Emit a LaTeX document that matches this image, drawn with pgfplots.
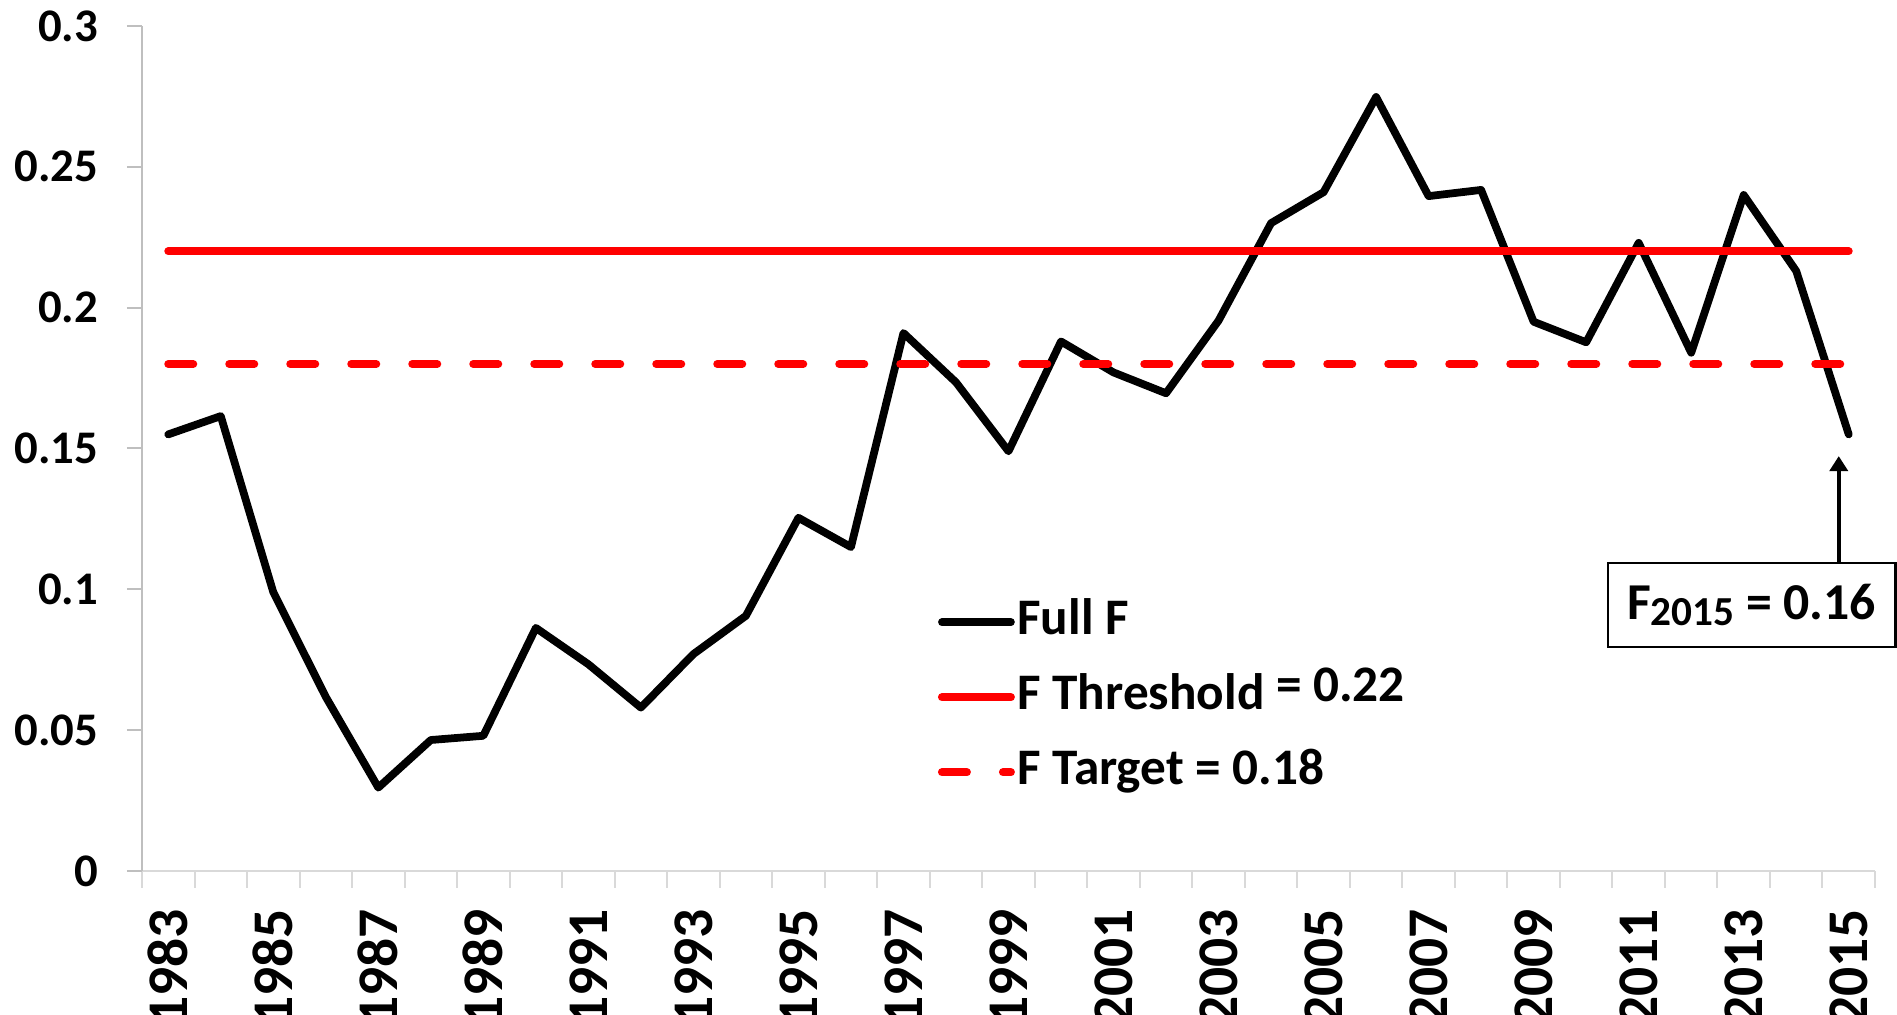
\documentclass[border=0pt]{standalone}
\usepackage{pgfplots}
\pgfplotsset{compat=1.18}
\usepackage{fontspec}
\setmainfont{Carlito}
\usetikzlibrary{arrows.meta}
\definecolor{axgray}{HTML}{BFBFBF}
\definecolor{axgrayx}{HTML}{D9D9D9}
\begin{document}
\begin{tikzpicture}
\begin{axis}[
  name=ax,
  scale only axis,
  width=693.2pt, height=338pt,
  xmin=1982.5, xmax=2015.5,
  ymin=0, ymax=0.3,
  axis x line*=bottom, axis y line*=left,
  x axis line style={draw=axgrayx, line width=0.8pt},
  y axis line style={draw=axgray, line width=0.8pt},
  xtick={1983,1985,1987,1989,1991,1993,1995,1997,1999,2001,2003,2005,2007,2009,2011,2013,2015},
  xticklabels={1983,1985,1987,1989,1991,1993,1995,1997,1999,2001,2003,2005,2007,2009,2011,2013,2015},
  major x tick style={draw=none},
  minor xtick={1982.5,1983.5,...,2015.5},
  minor x tick style={draw=axgrayx, line width=0.8pt},
  minor tick length=6.7pt,
  ytick={0,0.05,0.1,0.15,0.2,0.25,0.3},
  yticklabels={0,0.05,0.1,0.15,0.2,0.25,0.3},
  y tick style={draw=axgray, line width=0.8pt},
  major tick length=6pt,
  tick align=outside,
  xticklabel style={yshift=-5.8pt, rotate=90, anchor=east, font=\fontsize{23}{24}\selectfont\bfseries},
  yticklabel style={xshift=-8pt, font=\fontsize{18.7}{20}\selectfont\bfseries},
  clip=false,
  legend style={at={(0.459,0.3245)}, anchor=north west, draw=none, fill=none,
    inner sep=0pt, row sep=10pt, column sep=0pt,
    font=\fontsize{20.5}{24}\selectfont\bfseries,
    nodes={inner sep=1pt, text height=14pt, text depth=4pt}},
  legend cell align=left,
  legend image code/.code={\draw[#1] (0pt,0pt) -- (27.6pt,0pt);},
]
\addplot[black, line width=3.1pt, line join=round, line cap=round] coordinates {
(1983,0.155) (1984,0.1615) (1985,0.099) (1986,0.0618) (1987,0.0296)
(1988,0.0465) (1989,0.048) (1990,0.0863) (1991,0.0734) (1992,0.058)
(1993,0.077) (1994,0.0906) (1995,0.1254) (1996,0.115) (1997,0.191)
(1998,0.1735) (1999,0.149) (2000,0.188) (2001,0.177) (2002,0.1696)
(2003,0.1954) (2004,0.230) (2005,0.241) (2006,0.2748) (2007,0.2396)
(2008,0.2418) (2009,0.195) (2010,0.1877) (2011,0.223) (2012,0.184)
(2013,0.240) (2014,0.213) (2015,0.155)
};
\addlegendentry{Full F}
\addplot[red, line width=3.2pt, line cap=round] coordinates {(1983,0.22) (2015,0.22)};
\addlegendentry{F Threshold \raisebox{3.5pt}{= 0.22}}
\addplot[red, line width=3.2pt, line cap=round, dash pattern=on 10pt off 14.4pt] coordinates {(1983,0.18) (2015,0.18)};
\addlegendentry{F Target = 0.18}
\node[draw, line width=1pt, minimum width=115pt, minimum height=33.6pt, inner sep=0pt, fill=white,
  font=\fontsize{20.7}{24}\selectfont\bfseries] at (axis cs:2013.15,0.0944)
  {F\raisebox{-2.7pt}{\fontsize{16.5}{16}\selectfont 2015} = 0.16};
\draw[line width=1.6pt, -{Triangle[width=7.2pt,length=6pt]}] (axis cs:2014.81,0.1093) -- (axis cs:2014.81,0.1473);
\end{axis}
\pgfresetboundingbox
\path[use as bounding box] ([xshift=-56.8pt,yshift=-57.6pt]ax.south west) rectangle ++(758.8pt,406pt);
\end{tikzpicture}
\end{document}
